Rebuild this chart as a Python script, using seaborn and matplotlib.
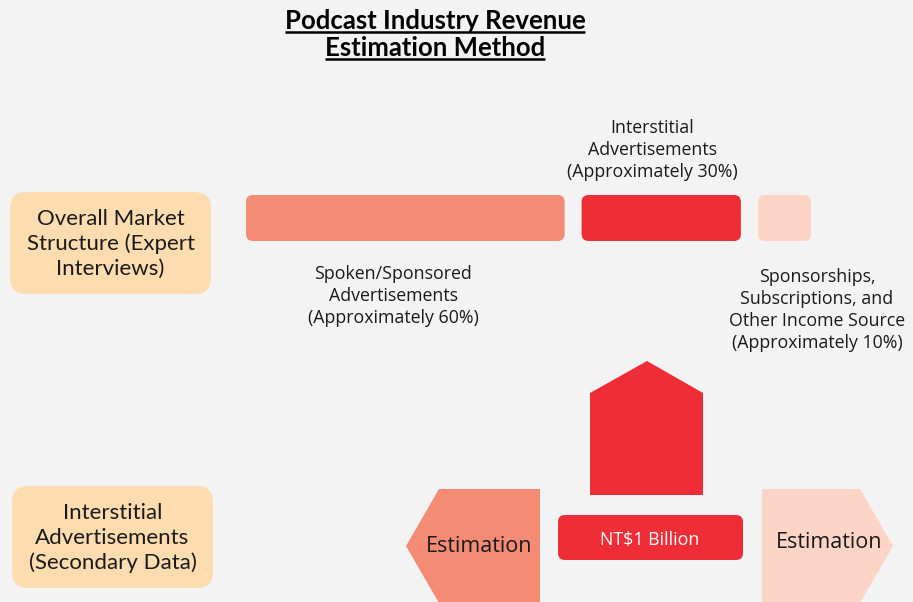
import matplotlib.pyplot as plt
import seaborn as sns
from matplotlib.patches import FancyBboxPatch, Polygon

# --- data ---
segments = ["Spoken/Sponsored\nAdvertisements\n(Approximately 60%)",
            "Interstitial\nAdvertisements\n(Approximately 30%)",
            "Sponsorships,\nSubscriptions, and\nOther Income Source\n(Approximately 10%)"]
shares = [60, 30, 10]
seg_colors = ["#f48b74", "#ee2d36", "#fdd5c6"]
rows = ["Overall Market\nStructure (Expert\nInterviews)",
        "Interstitial\nAdvertisements\n(Secondary Data)"]
total_label = "NT$1 Billion"
side_labels = ["Estimation", "Estimation"]
title_lines = ["Podcast Industry Revenue", "Estimation Method"]

sns.set_theme(style="white")
plt.rcParams['font.family'] = ['Open Sans', 'DejaVu Sans']

BG = "#f3f3f3"
PEACH = "#fddcb0"
TXT = "#1a1a1a"

fig = plt.figure(figsize=(9.13, 6.02), dpi=100, facecolor=BG)
ax = fig.add_axes([0, 0, 1, 1])
ax.set_facecolor(BG)
ax.set_xlim(0, 913)
ax.set_ylim(602, 0)
ax.set_aspect('equal')
ax.axis('off')

# title with underline
title_y = [21, 48]
title_objs = []
for line, ty in zip(title_lines, title_y):
    t = ax.text(435, ty, line, ha='center', va='center', fontsize=18.5,
                fontweight='bold', color='black', family=['Lato', 'DejaVu Sans'])
    title_objs.append(t)
fig.canvas.draw()
inv = ax.transData.inverted()
for t in title_objs:
    bb = t.get_window_extent()
    (x0, y0), (x1, y1) = inv.transform([[bb.x0, bb.y0], [bb.x1, bb.y1]])
    ax.plot([x0, x1], [y0 - 1, y0 - 1], color='black', lw=1.8, solid_capstyle='butt')

# row label boxes
row_boxes = [(10, 192, 201, 102), (12, 486, 201, 102)]
for (bx, by, bw, bh), lab in zip(row_boxes, rows):
    ax.add_patch(FancyBboxPatch((bx, by), bw, bh, boxstyle="round,pad=0,rounding_size=16",
                                fc=PEACH, ec='none'))
    ax.text(bx + bw / 2, by + bh / 2 + 1, lab, ha='center', va='center', fontsize=16,
            color=TXT, linespacing=1.27, family=['Lato', 'DejaVu Sans'])

# market structure bar
scale = 5.31
gap = 17
left = 246
bar_top, bar_h = 195, 46
centers = []
for share, col in zip(shares, seg_colors):
    w = share * scale
    ax.add_patch(FancyBboxPatch((left, bar_top), w, bar_h,
                                boxstyle="round,pad=0,rounding_size=7", fc=col, ec='none'))
    centers.append(left + w / 2)
    left += w + gap

lab_kw = dict(ha='center', va='center', fontsize=12.8, color=TXT, linespacing=1.3)
ax.text(centers[0] - 12, 296, segments[0], **lab_kw)
ax.text(centers[1] - 9, 150, segments[1], **lab_kw)
ax.text(817, 310, segments[2], **lab_kw)

# upward arrow
ax.add_patch(Polygon([(590, 495), (590, 393), (647, 361), (703, 393), (703, 495)],
                     closed=True, fc=seg_colors[1], ec='none'))

# total box
ax.add_patch(FancyBboxPatch((558, 515), 185, 45, boxstyle="round,pad=0,rounding_size=7",
                            fc=seg_colors[1], ec='none'))
ax.text(650, 540, total_label, ha='center', va='center', fontsize=12.8, color='white')

# side estimation arrows
ax.add_patch(Polygon([(406, 546), (439, 489), (540, 489), (540, 603), (439, 603)],
                     closed=True, fc=seg_colors[0], ec='none'))
ax.text(479, 546, side_labels[0], ha='center', va='center', fontsize=15.5, color=TXT)
ax.add_patch(Polygon([(762, 489), (860, 489), (893, 546), (860, 603), (762, 603)],
                     closed=True, fc=seg_colors[2], ec='none'))
ax.text(829, 542, side_labels[1], ha='center', va='center', fontsize=15.5, color=TXT)

fig.savefig("out.png", dpi=100, facecolor=BG)
